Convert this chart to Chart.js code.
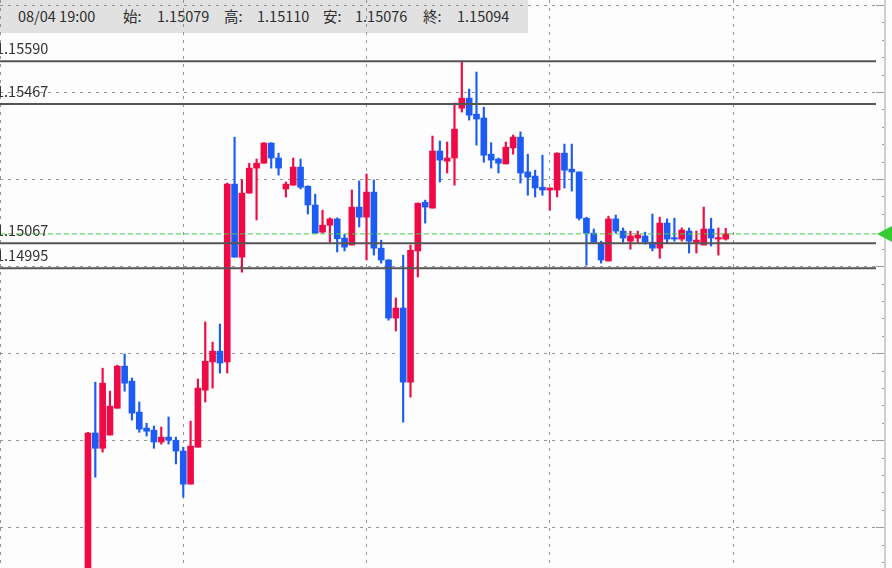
<!DOCTYPE html>
<html lang="ja">
<head>
<meta charset="utf-8">
<title>EUR/USD</title>
<script src="https://cdn.jsdelivr.net/npm/chart.js@4/dist/chart.umd.min.js"></script>
<style>
  html, body { margin: 0; padding: 0; background: #fdfdfe; }
  #wrap { position: relative; width: 892px; height: 568px; overflow: hidden; }
  #info { position: absolute; left: 0; top: 0; width: 528px; height: 33px; background: #e1e1e1;
          font: 14.5px "Noto Sans CJK JP", "Noto Sans", sans-serif; color: #2e2e2e; }
  #info span { position: absolute; top: 7px; line-height: 18px; white-space: nowrap; }
  #chart { position: absolute; left: 0; top: 0; }
</style>
</head>
<body>
<div id="wrap">
  <div id="info"></div>
  <canvas id="chart" width="892" height="568"></canvas>
</div>
<script>
// candle prices (oldest -> newest)
const opens = [
  1.14050, 1.14522, 1.14478, 1.14516, 1.14593, 1.14714, 1.14671, 1.14582, 1.14536, 1.14530,
  1.14496, 1.14510, 1.14501, 1.14470, 1.14375, 1.14481, 1.14645, 1.14726, 1.14757, 1.14726,
  1.15237, 1.15027, 1.15211, 1.15283, 1.15297, 1.15355, 1.15312, 1.15223, 1.15234, 1.15286,
  1.15231, 1.15177, 1.15099, 1.15119, 1.15137, 1.15082, 1.15062, 1.15171, 1.15142, 1.15214,
  1.15053, 1.15019, 1.14852, 1.14881, 1.14668, 1.15045, 1.15185, 1.15168, 1.15332, 1.15303,
  1.15312, 1.15455, 1.15484, 1.15438, 1.15427, 1.15323, 1.15309, 1.15295, 1.15341, 1.15372,
  1.15272, 1.15260, 1.15228, 1.15220, 1.15220, 1.15326, 1.15280, 1.15272, 1.15139, 1.15096,
  1.15068, 1.15016, 1.15137, 1.15102, 1.15073, 1.15082, 1.15088, 1.15070, 1.15053, 1.15125,
  1.15082, 1.15079, 1.15102, 1.15070, 1.15062, 1.15108, 1.15079, 1.15079
];
const highs = [
  1.14524, 1.14668, 1.14708, 1.14642, 1.14717, 1.14749, 1.14680, 1.14611, 1.14550, 1.14542,
  1.14539, 1.14568, 1.14510, 1.14481, 1.14556, 1.14677, 1.14841, 1.14783, 1.14835, 1.15240,
  1.15372, 1.15249, 1.15297, 1.15309, 1.15356, 1.15356, 1.15326, 1.15243, 1.15312, 1.15309,
  1.15232, 1.15208, 1.15162, 1.15140, 1.15140, 1.15093, 1.15220, 1.15246, 1.15266, 1.15249,
  1.15076, 1.15020, 1.14910, 1.15033, 1.15062, 1.15183, 1.15191, 1.15375, 1.15361, 1.15358,
  1.15470, 1.15590, 1.15510, 1.15559, 1.15458, 1.15356, 1.15312, 1.15358, 1.15378, 1.15387,
  1.15323, 1.15277, 1.15320, 1.15226, 1.15327, 1.15352, 1.15352, 1.15272, 1.15142, 1.15108,
  1.15073, 1.15145, 1.15148, 1.15111, 1.15102, 1.15102, 1.15099, 1.15151, 1.15142, 1.15137,
  1.15139, 1.15111, 1.15111, 1.15102, 1.15171, 1.15139, 1.15111, 1.15110
];
const lows = [
  1.14040, 1.14395, 1.14467, 1.14516, 1.14593, 1.14642, 1.14559, 1.14524, 1.14513, 1.14478,
  1.14490, 1.14490, 1.14433, 1.14338, 1.14375, 1.14481, 1.14611, 1.14651, 1.14694, 1.14694,
  1.15027, 1.14984, 1.15211, 1.15134, 1.15297, 1.15283, 1.15263, 1.15200, 1.15234, 1.15223,
  1.15151, 1.15096, 1.15096, 1.15070, 1.15042, 1.15045, 1.15062, 1.15114, 1.15019, 1.15033,
  1.15010, 1.14846, 1.14815, 1.14553, 1.14625, 1.14970, 1.15125, 1.15168, 1.15243, 1.15269,
  1.15234, 1.15444, 1.15421, 1.15349, 1.15300, 1.15283, 1.15269, 1.15295, 1.15323, 1.15240,
  1.15205, 1.15200, 1.15205, 1.15162, 1.15200, 1.15226, 1.15217, 1.15134, 1.15004, 1.15068,
  1.15010, 1.15016, 1.15096, 1.15070, 1.15050, 1.15070, 1.15065, 1.15045, 1.15024, 1.15068,
  1.15073, 1.15073, 1.15039, 1.15039, 1.15062, 1.15059, 1.15033, 1.15076
];
const closes = [
  1.14522, 1.14478, 1.14665, 1.14599, 1.14714, 1.14665, 1.14579, 1.14533, 1.14527, 1.14496,
  1.14510, 1.14501, 1.14470, 1.14375, 1.14484, 1.14651, 1.14728, 1.14757, 1.14723, 1.15237,
  1.15027, 1.15211, 1.15283, 1.15297, 1.15355, 1.15312, 1.15283, 1.15237, 1.15286, 1.15228,
  1.15177, 1.15096, 1.15119, 1.15137, 1.15080, 1.15056, 1.15171, 1.15142, 1.15214, 1.15053,
  1.15019, 1.14852, 1.14881, 1.14668, 1.15047, 1.15182, 1.15171, 1.15332, 1.15306, 1.15312,
  1.15395, 1.15484, 1.15435, 1.15424, 1.15320, 1.15306, 1.15297, 1.15343, 1.15372, 1.15269,
  1.15257, 1.15226, 1.15220, 1.15226, 1.15326, 1.15277, 1.15272, 1.15139, 1.15096, 1.15070,
  1.15019, 1.15137, 1.15102, 1.15082, 1.15088, 1.15091, 1.15070, 1.15053, 1.15125, 1.15079,
  1.15079, 1.15105, 1.15073, 1.15076, 1.15108, 1.15082, 1.15082, 1.15094
];

// horizontal price lines
const levels = [1.15590, 1.15467, 1.15067, 1.14995];

// header of the last bar
const headerTime = "08/04 19:00";
const headerKeys = ["始:", "高:", "安:", "終:"];

// axis ranges
const firstSlot = 12;
const xMin = 0, xMax = 119.5;
const yMin = 1.14134, yMax = 1.15766;

const UP = "#f00a45";
const DOWN = "#1c5cf5";
const GRID = "#959595";
const FONT = '"Noto Sans CJK JP", "Noto Sans", sans-serif';

const last = closes.length - 1;
const lastBar = [opens[last], highs[last], lows[last], closes[last]];

// header text
const info = document.getElementById("info");
function addSpan(text, left) {
  const s = document.createElement("span");
  s.textContent = text;
  s.style.left = left + "px";
  info.appendChild(s);
}
addSpan(headerTime, 18);
const keyX = [123, 224, 323, 423];
const valX = [157, 257, 355, 457];
headerKeys.forEach((k, i) => {
  addSpan(k, keyX[i]);
  addSpan(lastBar[i].toFixed(5), valX[i]);
});

const isUp = i => closes[i] >= opens[i];
const barColor = ctx => isUp(ctx.dataIndex) ? UP : DOWN;

const bodies = opens.map((o, i) => ({ x: firstSlot + i, y: [o, closes[i]] }));
const wicks = lows.map((l, i) => ({ x: firstSlot + i, y: [l, highs[i]] }));

// current price marker (green arrow on the right edge)
const arrow = document.createElement("canvas");
arrow.width = 32; arrow.height = 16;
const actx = arrow.getContext("2d");
actx.fillStyle = "#33cc33";
actx.beginPath();
actx.moveTo(17, 8); actx.lineTo(32, 0); actx.lineTo(32, 16); actx.closePath();
actx.fill();

const levelDatasets = levels.map(v => ({
  type: "line",
  data: [{ x: xMin, y: v }, { x: xMax, y: v }],
  borderColor: "#555",
  borderWidth: 2,
  pointRadius: 0,
  order: -1
}));

// labels above the price lines
const levelLabels = {
  id: "levelLabels",
  afterDatasetsDraw(chart) {
    const { ctx, chartArea, scales: { y } } = chart;
    ctx.save();
    ctx.font = "14.5px " + FONT;
    ctx.fillStyle = "#333";
    ctx.textBaseline = "middle";
    levels.forEach(v => {
      ctx.fillText(v.toFixed(5), chartArea.left - 4, y.getPixelForValue(v) - 12.5);
    });
    ctx.restore();
  }
};

const isMajor = v => Math.abs(v / 0.0025 - Math.round(v / 0.0025)) < 1e-6;

function draw() {
  new Chart(document.getElementById("chart"), {
    type: "bar",
    data: {
      datasets: [
        {
          data: bodies,
          backgroundColor: barColor,
          barThickness: 6,
          minBarLength: 1.5,
          grouped: false,
          order: 0
        },
        {
          data: wicks,
          backgroundColor: barColor,
          barThickness: 1.5,
          grouped: false,
          order: 1
        },
        ...levelDatasets,
        {
          type: "line",
          data: [{ x: xMin, y: closes[last] }, { x: xMax, y: closes[last] }],
          borderColor: "#44cc44",
          borderWidth: 1,
          borderDash: [5, 3],
          pointRadius: 0,
          order: -2
        },
        {
          type: "line",
          data: [{ x: xMax, y: closes[last] }],
          pointStyle: arrow,
          pointRadius: 8,
          showLine: false,
          clip: false,
          order: -3
        }
      ]
    },
    options: {
      responsive: false,
      animation: false,
      events: [],
      layout: { autoPadding: false, padding: { left: 0, top: 0, bottom: 0, right: 7 } },
      plugins: { legend: { display: false }, tooltip: { enabled: false } },
      scales: {
        x: {
          type: "linear",
          min: xMin,
          max: xMax,
          offset: false,
          ticks: { display: false, stepSize: 25, includeBounds: false },
          grid: { color: GRID, drawTicks: false, offset: false },
          border: { display: false, dash: [3, 5] }
        },
        y: {
          position: "left",
          min: yMin,
          max: yMax,
          ticks: { display: false, stepSize: 0.0025, includeBounds: false },
          grid: { color: GRID, drawTicks: false },
          border: { display: false, dash: [3, 5] }
        },
        yTicks: {
          position: "right",
          weight: 1,
          min: yMin,
          max: yMax,
          ticks: { display: false, stepSize: 0.0005, includeBounds: false },
          grid: {
            drawOnChartArea: false,
            drawTicks: true,
            tickLength: 9,
            tickColor: "#9a9a9a",
            tickWidth: 1,
            tickBorderDash: ctx => isMajor(ctx.tick.value) ? [] : [0, 6, 3, 30]
          },
          border: { display: false }
        },
        yEdge: {
          position: "right",
          weight: 2,
          min: yMin,
          max: yMax,
          ticks: { display: false, stepSize: 0.0025 },
          grid: { drawOnChartArea: false, drawTicks: false },
          border: { display: true, color: "#cfcfcf", width: 2 }
        }
      }
    },
    plugins: [levelLabels]
  });
}

document.fonts.load("14px " + FONT).then(draw, draw);
</script>
</body>
</html>
